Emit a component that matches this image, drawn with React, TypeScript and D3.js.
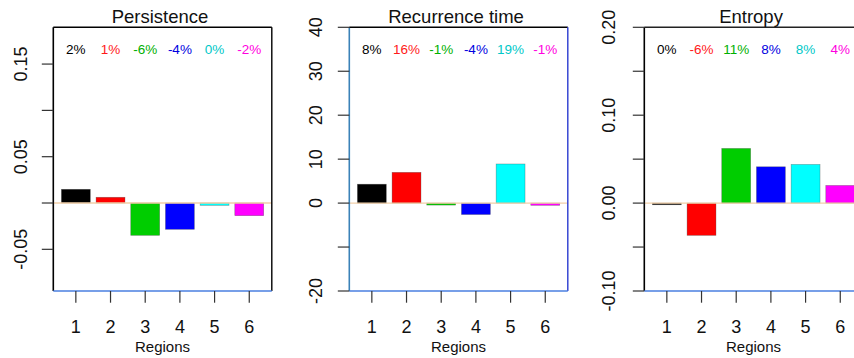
import React from "react";
import * as d3 from "d3";

const regions = ["1", "2", "3", "4", "5", "6"];
const barColors = ["#000000", "#ff0000", "#00cd00", "#0000ff", "#00ffff", "#ff00ff"];
const textColors = ["#000000", "#ff1a1a", "#00b000", "#0000e0", "#00c8c8", "#ff00e0"];

const persistence = [0.0148, 0.0062, -0.0349, -0.0284, -0.0025, -0.0137];
const persistenceLabels = ["2%", "1%", "-6%", "-4%", "0%", "-2%"];
const persistenceTicks = [-0.05, 0, 0.05, 0.1, 0.15];
const persistenceTickLabels = ["-0.05", "", "0.05", "", "0.15"];

const recurrence = [4.3, 7.0, -0.45, -2.6, 8.9, -0.5];
const recurrenceLabels = ["8%", "16%", "-1%", "-4%", "19%", "-1%"];
const recurrenceTicks = [-20, -10, 0, 10, 20, 30, 40];
const recurrenceTickLabels = ["-20", "", "0", "10", "20", "30", "40"];

const entropy = [-0.0019, -0.0367, 0.0622, 0.0413, 0.044, 0.0201];
const entropyLabels = ["0%", "-6%", "11%", "8%", "8%", "4%"];
const entropyTicks = [-0.1, -0.05, 0, 0.05, 0.1, 0.15, 0.2];
const entropyTickLabels = ["-0.10", "", "0.00", "", "0.10", "", "0.20"];

const FONT = "'Liberation Sans', Arial, Helvetica, sans-serif";

type PanelProps = {
  title: string;
  values: number[];
  labels: string[];
  ticks: number[];
  tickLabels: string[];
  domain: [number, number];
  left: number;
  labelOffset: number;
  borders: { left: string; top: string; right: string; bottom: string };
};

const TOP = 27.3;
const BOTTOM = 291;
const WIDTH = 218.5;

function Panel({ title, values, labels, ticks, tickLabels, domain, left, labelOffset, borders }: PanelProps) {
  const right = left + WIDTH;
  const x = d3.scaleLinear().domain([-0.08, 7.48]).range([left, right]);
  const y = d3.scaleLinear().domain(domain).range([BOTTOM, TOP]);
  const barL = (i: number) => 0.2 + 1.2 * i;
  const center = (i: number) => barL(i) + 0.5;
  const y0 = y(0);
  return (
    <g>
      {/* bars */}
      {values.map((v, i) => (
        <rect
          key={"b" + i}
          x={x(barL(i))}
          width={x(barL(i) + 1) - x(barL(i))}
          y={Math.min(y(v), y0)}
          height={Math.max(1, Math.abs(y(v) - y0))}
          fill={barColors[i]}
          stroke="#444"
          strokeOpacity={0.5}
          strokeWidth={0.6}
        />
      ))}
      {/* zero line */}
      <line x1={left} x2={right} y1={y0} y2={y0} stroke="#f2cfa8" strokeWidth={1.3} />
      {/* box */}
      <line x1={left} x2={left} y1={TOP} y2={BOTTOM} stroke={borders.left} strokeWidth={1.6} />
      <line x1={left} x2={right} y1={TOP} y2={TOP} stroke={borders.top} strokeWidth={1.6} />
      <line x1={right} x2={right} y1={TOP} y2={BOTTOM} stroke={borders.right} strokeWidth={1.4} />
      <line x1={left} x2={right} y1={BOTTOM} y2={BOTTOM} stroke={borders.bottom} strokeWidth={1.4} />
      {/* y ticks */}
      {ticks.map((t, i) => (
        <g key={"yt" + i}>
          <line x1={left - 11.5} x2={left} y1={y(t)} y2={y(t)} stroke="#333" strokeWidth={1.2} />
          {tickLabels[i] && (
            <text
              transform={`translate(${left - labelOffset},${y(t)}) rotate(-90)`}
              textAnchor="middle"
              fontSize={18}
              fontFamily={FONT}
              fill="#111"
            >
              {tickLabels[i]}
            </text>
          )}
        </g>
      ))}
      {/* x ticks */}
      {regions.map((r, i) => (
        <g key={"xt" + i}>
          <line x1={x(center(i))} x2={x(center(i))} y1={BOTTOM} y2={BOTTOM + 11.7} stroke="#333" strokeWidth={1.2} />
          <text x={x(center(i))} y={333.3} textAnchor="middle" fontSize={18} fontFamily={FONT} fill="#111">
            {r}
          </text>
        </g>
      ))}
      {/* percent labels */}
      {labels.map((l, i) => (
        <text
          key={"p" + i}
          x={x(center(i))}
          y={54}
          textAnchor="middle"
          fontSize={13.5}
          fontFamily={FONT}
          fill={textColors[i]}
        >
          {l}
        </text>
      ))}
      <text x={(left + right) / 2 - 2.5} y={22.7} textAnchor="middle" fontSize={18.5} fontFamily={FONT} fill="#111">
        {title}
      </text>
      <text x={(left + right) / 2} y={351.5} textAnchor="middle" fontSize={15} fontFamily={FONT} fill="#111">
        Regions
      </text>
    </g>
  );
}

export default function App() {
  return (
    <svg
      width={854}
      height={358}
      style={{ position: "absolute", left: 0, top: 0, background: "#fff" }}
    >
      <rect width={854} height={358} fill="#fff" />
      <Panel
        title="Persistence"
        values={persistence}
        labels={persistenceLabels}
        ticks={persistenceTicks}
        tickLabels={persistenceTickLabels}
        domain={[-0.095, 0.1897]}
        left={53.3}
        labelOffset={26.6}
        borders={{ left: "#000", top: "#000", right: "#000", bottom: "#4a7fe0" }}
      />
      <Panel
        title="Recurrence time"
        values={recurrence}
        labels={recurrenceLabels}
        ticks={recurrenceTicks}
        tickLabels={recurrenceTickLabels}
        domain={[-20, 40]}
        left={349.3}
        labelOffset={27.6}
        borders={{ left: "#3b82b8", top: "#000", right: "#2b3bd0", bottom: "#4a7fe0" }}
      />
      <Panel
        title="Entropy"
        values={entropy}
        labels={entropyLabels}
        ticks={entropyTicks}
        tickLabels={entropyTickLabels}
        domain={[-0.1, 0.2]}
        left={644.3}
        labelOffset={29.3}
        borders={{ left: "#000", top: "#222", right: "#000", bottom: "#4a7fe0" }}
      />
    </svg>
  );
}
